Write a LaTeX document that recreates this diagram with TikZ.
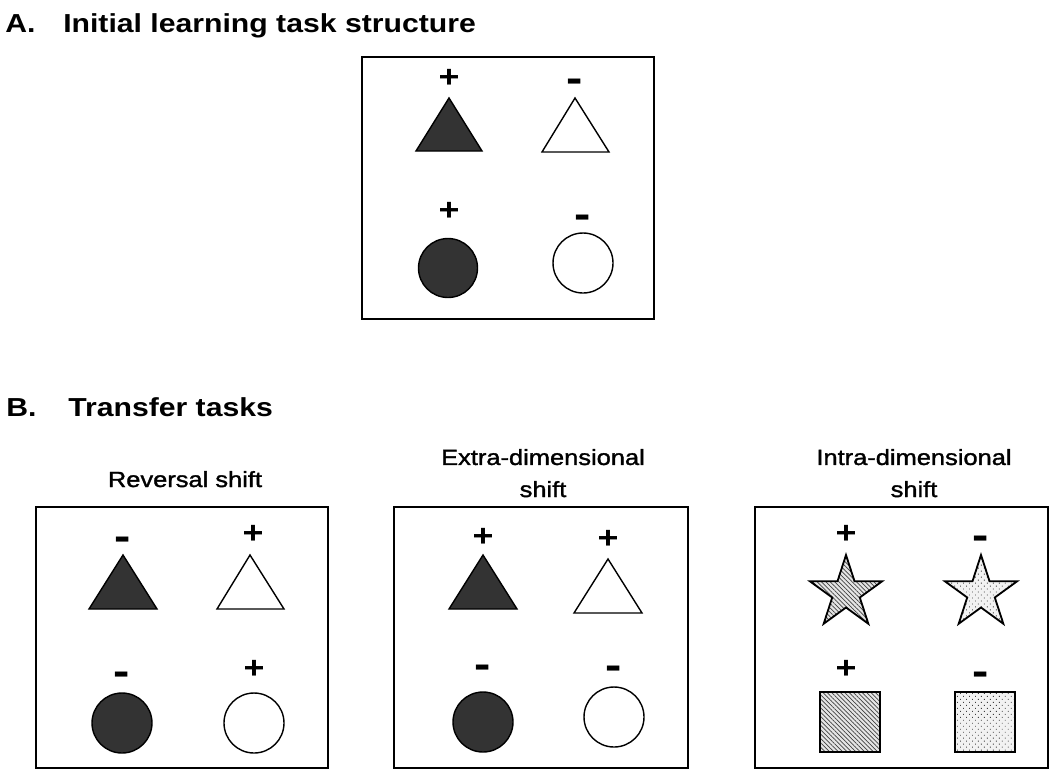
\documentclass[tikz,border=0pt]{standalone}
\usepackage{fontspec}
\setmainfont{Liberation Sans}[FakeStretch=1.16]
\newfontfamily\capfont{Liberation Sans}[FakeStretch=1.16, FakeBold=1.5]
\usetikzlibrary{patterns.meta}

\begin{document}
\begin{tikzpicture}[x=0.025cm, y=-0.025cm,
  panel/.style={draw, line width=1.1pt},
  dark/.style={draw, line width=1pt, fill=black!80},
  light/.style={draw, line width=1pt, fill=white},
  hatched/.style={draw, line width=1.3pt, preaction={fill=black!10}, pattern={Lines[angle=-45, distance=2.2pt, line width=0.5pt]}, pattern color=black!75},
  speckled/.style={draw, line width=1.3pt, preaction={fill=black!5}, pattern={Dots[distance=3pt, radius=0.45pt, angle=45]}, pattern color=black!75},
  heading/.style={anchor=base west, inner sep=0pt, font=\fontsize{18.5}{22}\selectfont\bfseries},
  caption/.style={anchor=base, align=center, inner sep=0pt, font=\capfont\fontsize{15.6}{22.8}\selectfont},
  signplus/.style={anchor=base, inner sep=0pt, yshift=-7.8pt, font=\fontsize{22}{26}\selectfont\bfseries},
  signminus/.style={anchor=base, inner sep=0pt, yshift=-7.9pt, font=\fontsize{30}{34}\selectfont\bfseries}]
\useasboundingbox (0,0) rectangle (1050,771);

% A. initial learning
\node[heading] (A) at (5,32) {A.};
\node[heading] (Atitle) at (63,32) {Initial learning task structure};
\draw[panel] (362,57) rectangle (654,319);
\draw[dark] (449,98) -- (416,151) -- (482,151) -- cycle;
\draw[light] (575,98) -- (542,152) -- (609,152) -- cycle;
\draw[dark] (448,268) circle (29.5);
\draw[light] (583,263) circle (30);
\node[signplus] (a1) at (449,77) {+};
\node[signminus] (a2) at (575,81) {-};
\node[signplus] (a3) at (449,210) {+};
\node[signminus] (a4) at (583,217) {-};

% B. transfer tasks
\node[heading] (B) at (6,416) {B.};
\node[heading] (Btitle) at (68,416) {Transfer tasks};

% reversal shift
\node[caption] (rev) at (185,487) {Reversal shift};
\draw[panel] (36,507) rectangle (328,768);
\draw[dark] (123,555) -- (89,609) -- (157,609) -- cycle;
\draw[light] (250,555) -- (217,609) -- (284,609) -- cycle;
\draw[dark] (122,723) circle (30);
\draw[light] (254,723) circle (30);
\node[signminus] (r1) at (123,539) {-};
\node[signplus] (r2) at (253,533) {+};
\node[signminus] (r3) at (122,674) {-};
\node[signplus] (r4) at (254,668) {+};

% extra-dimensional shift
\node[caption] (extra) at (543,497) {Extra-dimensional\\shift};
\draw[panel] (394,507) rectangle (688,768);
\draw[dark] (483,555) -- (449,609) -- (517,609) -- cycle;
\draw[light] (608,559) -- (574,613) -- (642,613) -- cycle;
\draw[dark] (483,722) circle (30);
\draw[light] (614,717) circle (30);
\node[signplus] (e1) at (483,536) {+};
\node[signplus] (e2) at (608,538) {+};
\node[signminus] (e3) at (483,667) {-};
\node[signminus] (e4) at (614,668) {-};

% intra-dimensional shift
\node[caption] (intra) at (914,497) {Intra-dimensional\\shift};
\draw[panel] (755,507) rectangle (1048,768);
\draw[hatched] (846,593) +(-90:38) \foreach \k in {1,...,9} {-- +({-90+36*\k}:{ifthenelse(mod(\k,2)==1,14.5,38)})} -- cycle;
\draw[speckled] (981,593) +(-90:38) \foreach \k in {1,...,9} {-- +({-90+36*\k}:{ifthenelse(mod(\k,2)==1,14.5,38)})} -- cycle;
\draw[hatched] (820,692) rectangle (880,752);
\draw[speckled] (955,692) rectangle (1015,752);
\node[signplus] (i1) at (846,533) {+};
\node[signminus] (i2) at (981,538) {-};
\node[signplus] (i3) at (846,668) {+};
\node[signminus] (i4) at (981,674) {-};
\end{tikzpicture}
\end{document}
